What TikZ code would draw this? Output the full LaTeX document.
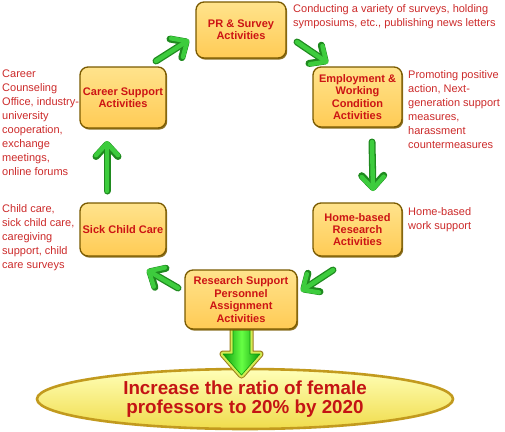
\documentclass[tikz,border=0pt]{standalone}
\usepackage{fontspec}
\setmainfont{Liberation Sans}
\usetikzlibrary{shadows,arrows.meta,calc,shapes.geometric}
\definecolor{boxtop}{HTML}{FFE38C}
\definecolor{boxbot}{HTML}{FFCB55}
\definecolor{boxedge}{HTML}{7A5A00}
\definecolor{boxtext}{HTML}{CC1414}
\definecolor{sidetext}{HTML}{CC2A2A}
\definecolor{arrgreen}{HTML}{3DCC3D}
\definecolor{arrdark}{HTML}{1F8A1F}
\definecolor{goaltext}{HTML}{C41414}
\definecolor{goaledge}{HTML}{C29A1E}
\definecolor{goaltop}{HTML}{FFFFB8}
\definecolor{goalbot}{HTML}{F0DC4C}
\definecolor{glow}{HTML}{D2EC55}
\definecolor{glowedge}{HTML}{9A7A18}
\definecolor{dgreen}{HTML}{0C9A0C}
\definecolor{lgreen}{HTML}{66FF44}
\begin{document}
\begin{tikzpicture}[x=1pt,y=-1pt,
  box/.style={draw=boxedge, line width=1.3pt, rounded corners=8pt,
    top color=boxtop, bottom color=boxbot, align=center, text=boxtext,
    font=\fontsize{11}{12.4}\selectfont\bfseries, inner sep=0pt,
    drop shadow={shadow xshift=1.2pt, shadow yshift=-1.6pt, fill=boxedge, opacity=0.85}},
  side/.style={anchor=north west, align=left, text=sidetext,
    font=\fontsize{11}{14}\selectfont, inner sep=0pt},
  cycout/.style={line width=7pt, draw=arrdark, line cap=round, line join=round,
    -{Straight Barb[length=12pt, width=22pt, round]}},
  cycin/.style={line width=4.4pt, draw=arrgreen, line cap=round, line join=round,
    -{Straight Barb[length=12pt, width=22pt, round]}},
  downarr/.style={line join=round}
]
\useasboundingbox (0,0) rectangle (505,431);

% goal ellipse
\node[ellipse, draw=goaledge, line width=2.6pt, top color=goaltop, bottom color=goalbot,
  minimum width=416pt, minimum height=60pt, inner sep=0pt, align=center,
  text=goaltext, font=\fontsize{18.8}{18.5}\selectfont\bfseries] (goal) at (245,399)
  {Increase the ratio of female\\professors to 20\% by 2020};

% down arrow from research box to goal
\coordinate (dtop) at (241.5,329);
\coordinate (dtip) at (241.5,375);
\def\downpoly{($(dtop)+(-8.5,0)$) -- ($(dtop)+(-8.5,25)$) -- ($(dtop)+(-18.5,25)$) -- (dtip) -- ($(dtop)+(18.5,25)$) -- ($(dtop)+(8.5,25)$) -- ($(dtop)+(8.5,0)$) -- cycle}
\path[downarr, draw=glowedge, line width=7pt] \downpoly;
\path[downarr, draw=glow, line width=5pt] \downpoly;
\path[downarr, left color=dgreen, right color=dgreen, middle color=lgreen, draw=dgreen, line width=0.6pt] \downpoly;

% boxes
\node[box, minimum width=90pt, minimum height=56pt] (pr) at (241,30) {PR \& Survey\\Activities};
\node[box, minimum width=89pt, minimum height=60pt] (emp) at (357.5,97) {Employment \&\\Working\\Condition\\Activities};
\node[box, minimum width=86pt, minimum height=61pt] (career) at (123,97.5) {Career Support\\Activities};
\node[box, minimum width=86pt, minimum height=53pt] (sick) at (123,229.5) {Sick Child Care};
\node[box, minimum width=89pt, minimum height=53pt] (home) at (357.5,229.5) {Home-based\\Research\\Activities};
\node[box, minimum width=112pt, minimum height=59pt] (res) at (241,299.5) {Research Support\\Personnel\\Assignment\\Activities};

% cycle arrows
\coordinate (a1s) at (156,61);  \coordinate (a1e) at (189,40);
\coordinate (a2s) at (297,42);  \coordinate (a2e) at (328,63);
\coordinate (a3s) at (372,142); \coordinate (a3e) at (373,191);
\coordinate (a4s) at (333,270); \coordinate (a4e) at (301,291);
\coordinate (a5s) at (178,288); \coordinate (a5e) at (147,270);
\coordinate (a6s) at (107,191); \coordinate (a6e) at (107,141);
\foreach \i in {1,...,6}{
  \draw[cycout] (a\i s) -- (a\i e);
  \draw[cycin] (a\i s) -- (a\i e);
}

% side texts
\node[side] (t1) at (293,4) {Conducting a variety of surveys, holding\\symposiums, etc., publishing news letters};
\node[side] (t2) at (408,70) {Promoting positive\\action, Next-\\generation support\\measures,\\harassment\\countermeasures};
\node[side] (t3) at (2,70) {Career\\Counseling\\Office, industry-\\university\\cooperation,\\exchange\\meetings,\\online forums};
\node[side] (t4) at (2,204) {Child care,\\sick child care,\\caregiving\\support, child\\care surveys};
\node[side] (t5) at (408,207) {Home-based\\work support};
\end{tikzpicture}
\end{document}
